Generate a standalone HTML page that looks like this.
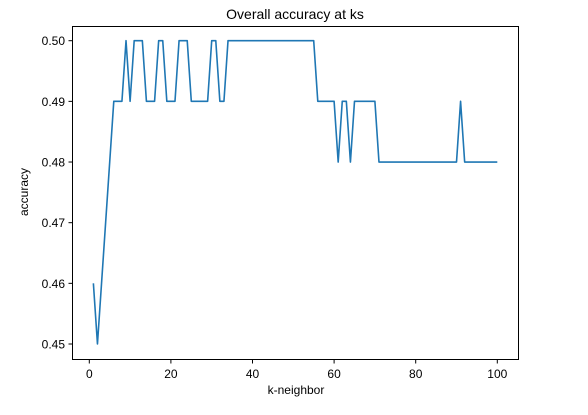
<!DOCTYPE html>
<html><head><meta charset="utf-8"><style>
body{margin:0;background:#fff;}
svg{display:block;font-family:"Liberation Sans","DejaVu Sans",sans-serif;}
</style></head><body>
<svg id="chart" width="588" height="415">
<rect x="0" y="0" width="588" height="415" fill="#fff"/>
<text x="295" y="19" text-anchor="middle" font-size="14" fill="#000">Overall accuracy at ks</text>
<text x="296" y="394" text-anchor="middle" font-size="12" fill="#000">k-neighbor</text>
<text transform="translate(28,192) rotate(-90)" text-anchor="middle" font-size="12" fill="#000">accuracy</text>
<g id="xticks"></g>
<g id="yticks"></g>
<path id="line" fill="none" stroke="#1f77b4" stroke-width="1.6" stroke-linejoin="round"/>
<rect x="72.5" y="26.5" width="446" height="333" fill="none" stroke="#000" stroke-width="1"/>
</svg>
<script>
const ks = [];
for (let i = 1; i <= 100; i++) ks.push(i);
const accuracy = [
0.46,0.45,0.46,0.47,0.48,0.49,0.49,0.49,0.50,0.49,
0.50,0.50,0.50,0.49,0.49,0.49,0.50,0.50,0.49,0.49,
0.49,0.50,0.50,0.50,0.49,0.49,0.49,0.49,0.49,0.50,
0.50,0.49,0.49,0.50,0.50,0.50,0.50,0.50,0.50,0.50,
0.50,0.50,0.50,0.50,0.50,0.50,0.50,0.50,0.50,0.50,
0.50,0.50,0.50,0.50,0.50,0.49,0.49,0.49,0.49,0.49,
0.48,0.49,0.49,0.48,0.49,0.49,0.49,0.49,0.49,0.49,
0.48,0.48,0.48,0.48,0.48,0.48,0.48,0.48,0.48,0.48,
0.48,0.48,0.48,0.48,0.48,0.48,0.48,0.48,0.48,0.48,
0.49,0.48,0.48,0.48,0.48,0.48,0.48,0.48,0.48,0.48];
const xTicks = [0,20,40,60,80,100];
const yTicks = [0.45,0.46,0.47,0.48,0.49,0.50];

const ns = "http://www.w3.org/2000/svg";
function xs(v){ return 89.3 + v * 4.08; }
function ys(v){ return 40.7 + (0.50 - v) * 6066; }

let d = "";
ks.forEach((k, i) => { d += (i ? "L" : "M") + xs(k).toFixed(2) + "," + ys(accuracy[i]).toFixed(2); });
document.getElementById("line").setAttribute("d", d);

const gx = document.getElementById("xticks");
xTicks.forEach(t => {
  const l = document.createElementNS(ns, "line");
  l.setAttribute("x1", xs(t)); l.setAttribute("x2", xs(t));
  l.setAttribute("y1", 359.5); l.setAttribute("y2", 363.5);
  l.setAttribute("stroke", "#000");
  
  
  gx.appendChild(l);
  const tx = document.createElementNS(ns, "text");
  tx.setAttribute("x", xs(t)); tx.setAttribute("y", 378);
  tx.setAttribute("text-anchor", "middle"); tx.setAttribute("font-size", "12");
  tx.textContent = t;
  
  
  gx.appendChild(tx);
});
const gy = document.getElementById("yticks");
yTicks.forEach(t => {
  const l = document.createElementNS(ns, "line");
  l.setAttribute("x1", 68.5); l.setAttribute("x2", 72.5);
  l.setAttribute("y1", ys(t)); l.setAttribute("y2", ys(t));
  l.setAttribute("stroke", "#000");
  
  
  gy.appendChild(l);
  const tx = document.createElementNS(ns, "text");
  tx.setAttribute("x", 65); tx.setAttribute("y", ys(t) + 4.5);
  tx.setAttribute("text-anchor", "end"); tx.setAttribute("font-size", "12");
  tx.textContent = t.toFixed(2);
  
  
  gy.appendChild(tx);
});
</script>
</body></html>
